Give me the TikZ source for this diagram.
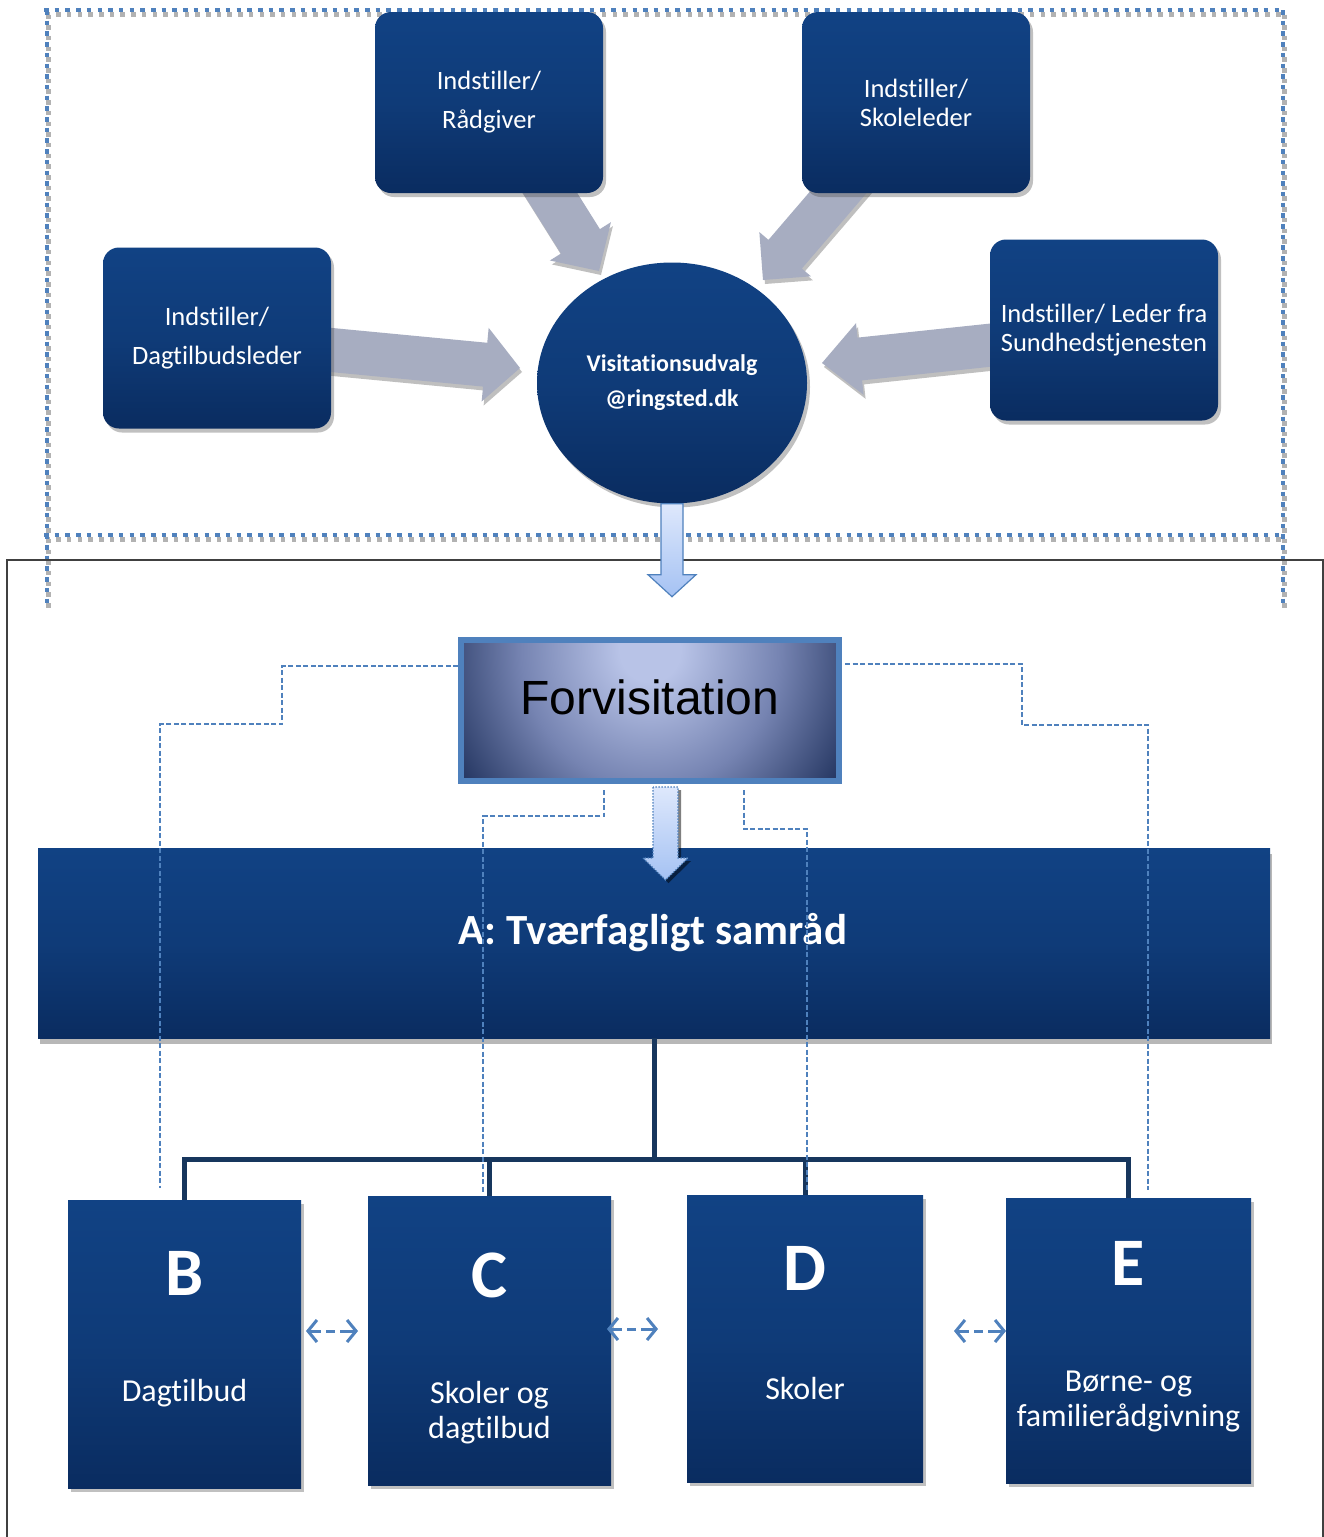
\documentclass[tikz,border=0pt]{standalone}
\usepackage{fontspec}
\setmainfont{Carlito}[Ligatures=NoCommon]
\newfontfamily\arialfont{Liberation Sans}
\usetikzlibrary{calc,shadows,arrows.meta,shapes.geometric}

\definecolor{navyT}{RGB}{17,66,132}
\definecolor{navyM}{RGB}{15,59,120}
\definecolor{navyB}{RGB}{10,44,96}
\definecolor{accent}{RGB}{79,129,189}
\definecolor{arrowgray}{RGB}{167,173,193}
\definecolor{treeline}{RGB}{23,54,93}
\definecolor{fvA}{RGB}{184,195,231}
\definecolor{fvB}{RGB}{118,132,178}
\definecolor{fvC}{RGB}{27,45,88}
\definecolor{paleT}{RGB}{222,232,252}
\definecolor{paleB}{RGB}{165,194,243}

\pgfdeclareradialshading{fvshade}{\pgfpoint{0bp}{0bp}}{%
  color(0bp)=(fvA); color(4bp)=(fvA); color(17bp)=(fvB);
  color(31bp)=(fvC); color(50bp)=(fvC)}

\newcommand\topwide{\fontsize{26.5pt}{39pt}\selectfont}
\newcommand\topnarrow{\fontsize{26.5pt}{29pt}\selectfont}

% block arrow: #1 start, #2 tip, #3 half shaft width, #4 half head width, #5 head length
\newcommand\blockarrow[5]{%
  \coordinate (hb) at ($(#2)!#5!(#1)$);
  \fill[arrowgray, drop shadow={shadow xshift=2pt, shadow yshift=-4pt, opacity=.45, fill=black!55}]
    ($(#1)!#3!90:(#2)$) -- ($(hb)!#3!90:(#2)$) -- ($(hb)!#4!90:(#2)$) -- (#2)
    -- ($(hb)!#4!-90:(#2)$) -- ($(hb)!#3!-90:(#2)$) -- ($(#1)!#3!-90:(#2)$) -- cycle;
}

\tikzset{
  navyfill/.style={top color=navyT, bottom color=navyB, middle color=navyM},
  softshadow/.style={drop shadow={shadow xshift=3pt, shadow yshift=-4pt, opacity=.35, fill=black!70}},
  rbox/.style={navyfill, rounded corners=16pt, minimum width=228pt, minimum height=181pt,
    text=white, align=center, inner sep=0pt, softshadow},
  bbox/.style={navyfill, inner sep=0pt, softshadow},
  bigletter/.style={text=white, font=\bfseries\fontsize{68pt}{68pt}\selectfont, inner sep=0pt},
  boxlabel/.style={text=white, font=\fontsize{32pt}{35pt}\selectfont, align=center, inner sep=0pt},
  palearrow/.style={top color=paleT, bottom color=paleB, draw=accent, line width=1.2pt, line join=miter},
  dashlink/.style={draw=accent, line width=1.3pt, dash pattern=on 5pt off 2.5pt},
  tree/.style={draw=treeline, line width=5pt},
  dbl/.style={draw=accent, line width=3pt, <->, >={Straight Barb[length=9pt,width=22pt]},
    dash pattern=on 12pt off 5pt on 9pt off 5pt on 40pt},
}

\begin{document}
\begin{tikzpicture}[x=1pt,y=-1pt]
\useasboundingbox (0,0) rectangle (1324,1537);
\fill[white] (0,0) rectangle (1324,1537);

% dotted outline around the nomination area (shadow first, then blue)
\foreach \dx/\dy/\col in {1.5/4.5/black!30, 0/0/accent}{
  \draw[\col, line width=4.5pt, dash pattern=on 4.5pt off 6.2pt, shift={(\dx,\dy)}]
    (44,10) -- (1285,10) (44,535) -- (1285,535) (47,10) -- (47,603) (1283,10) -- (1283,603);
}

% thin frame around the lower part
\draw[black!75, line width=1.5pt] (7,1545) -- (7,560) -- (1323,560) -- (1323,1545);

% grey block arrows towards the committee
\coordinate (gaS1) at (300,347);  \coordinate (gaT1) at (520,368);
\coordinate (gaS2) at (1020,342); \coordinate (gaT2) at (822,363);
\coordinate (gaS3) at (530,161);  \coordinate (gaT3) at (599,271);
\coordinate (gaS4) at (866,160);  \coordinate (gaT4) at (763,280);
\blockarrow{gaS1}{gaT1}{22pt}{37pt}{35pt}
\blockarrow{gaS2}{gaT2}{21.5pt}{36pt}{38pt}
\blockarrow{gaS3}{gaT3}{23pt}{36pt}{35pt}
\blockarrow{gaS4}{gaT4}{22pt}{34pt}{34pt}

% nominating parties
\node[rbox, font=\topwide]   (rad)  at (489,102.5) {Indstiller/\\Rådgiver};
\node[rbox, font=\topnarrow] (skol) at (916,102.5) {Indstiller/\\Skoleleder};
\node[rbox, font=\topwide]   (dag)  at (217,338)   {Indstiller/\\Dagtilbudsleder};
\node[rbox, font=\topnarrow] (sund) at (1104,330)  {Indstiller/ Leder fra\\Sundhedstjenesten};

% committee
\node[ellipse, navyfill, minimum width=270pt, minimum height=241pt, inner sep=0pt,
      text=white, align=center, font=\bfseries\fontsize{24pt}{35pt}\selectfont, softshadow]
  (circ) at (672,383) {Visitationsudvalg\\@ringsted.dk};

% pale arrow from the committee down
\path[palearrow] ([xshift=-11pt]circ.south) -- ++(0,71) -- ++(-13,0) -- ++(24,22)
  -- ++(24,-22) -- ++(-13,0) -- ++(0,-71) -- cycle;

% pre-visitation box with a glow that is brightest near the top centre
\node[draw=accent, line width=6pt, minimum width=378pt, minimum height=141pt, inner sep=0pt,
      fill=fvC,
      path picture={\shade[shading=fvshade]
        ([shift={(-190,-260.5)}]path picture bounding box.center) rectangle ++(380,400);}]
  (fv) at (650,710.5) {};
\node[font=\arialfont\fontsize{48pt}{48pt}\selectfont, inner sep=0pt] (fvlab) at (650,697) {Forvisitation};

% interdisciplinary council
\node[navyfill, minimum width=1232pt, minimum height=190pt, inner sep=0pt,
      drop shadow={shadow xshift=2pt, shadow yshift=-6pt, opacity=.4, fill=black!70}]
  (A) at (654,943) {};
\node[text=white, font=\bfseries\fontsize{43pt}{43pt}\selectfont, inner sep=0pt]
  (Alab) at (653,933) {A: Tværfagligt samråd};

% B-E units
\node[bbox, minimum width=233pt, minimum height=288pt] (B) at (184.5,1344) {};
\node[bbox, minimum width=243pt, minimum height=289pt] (C) at (489.5,1340.5) {};
\node[bbox, minimum width=236pt, minimum height=287pt] (D) at (805,1338.5) {};
\node[bbox, minimum width=245pt, minimum height=285pt] (E) at (1128.5,1340.5) {};
\node[bigletter] (Blab) at (184.5,1273) {B};
\node[bigletter] (Clab) at (489.5,1275) {C};
\node[bigletter] (Dlab) at (805,1268) {D};
\node[bigletter] (Elab) at (1128.5,1263) {E};
\node[boxlabel] (Btxt) at (184.5,1393) {Dagtilbud};
\node[boxlabel] (Ctxt) at (489.5,1412.5) {Skoler og\\dagtilbud};
\node[boxlabel] (Dtxt) at (805,1388) {Skoler};
\node[boxlabel] (Etxt) at (1128.5,1401) {Børne- og\\familierådgivning};

% organisation tree
\coordinate (hub) at (654,1159);
\draw[tree] (A.south -| hub) -- (hub);
\draw[tree] (hub) -| (B.north);
\draw[tree] (hub) -| (C.north);
\draw[tree] (hub) -| (D.north);
\draw[tree] (hub) -| (E.north);

% dashed links from the pre-visitation
\coordinate (l1) at (282,666);  \coordinate (l2) at (160,724);  \coordinate (lEnd) at (160,1188);
\coordinate (c1) at (604,0);    \coordinate (c2) at (483,816);  \coordinate (cEnd) at (483,1192);
\coordinate (d1) at (744,0);    \coordinate (d2) at (807,829);  \coordinate (dEnd) at (807,1190);
\coordinate (r1) at (1022,664); \coordinate (r2) at (1148,725); \coordinate (rEnd) at (1148,1190);
\draw[dashlink] (fv.west |- l1) -- (l1) |- (l2) -- (lEnd);
\draw[dashlink] ($(fv.south -| c1)+(0,6)$) |- (c2) -- (cEnd);
\draw[dashlink] ($(fv.south -| d1)+(0,6)$) |- (d2) -- (dEnd);
\draw[dashlink] ([xshift=3pt]fv.east |- r1) -- (r1) |- (r2) -- (rEnd);

% dotted pale arrow into the council
\path[palearrow, dash pattern=on 1.5pt off 1.5pt,
      drop shadow={shadow xshift=3pt, shadow yshift=-3pt, opacity=.5, fill=black}]
  ($(fv.south)+(3,3)$) -- ++(0,71) -- ++(-10,0) -- ++(22.5,22) -- ++(22.5,-22)
  -- ++(-10,0) -- ++(0,-71) -- cycle;

% cooperation between neighbouring units
\coordinate (bc1) at (306,1331); \coordinate (bc2) at (358,1331);
\coordinate (cd1) at (607,1329); \coordinate (cd2) at (658,1329);
\coordinate (de1) at (954,1331); \coordinate (de2) at (1006,1331);
\draw[dbl] (bc1) -- (bc2);
\draw[dbl] (cd1) -- (cd2);
\draw[dbl] (de1) -- (de2);
\end{tikzpicture}
\end{document}
